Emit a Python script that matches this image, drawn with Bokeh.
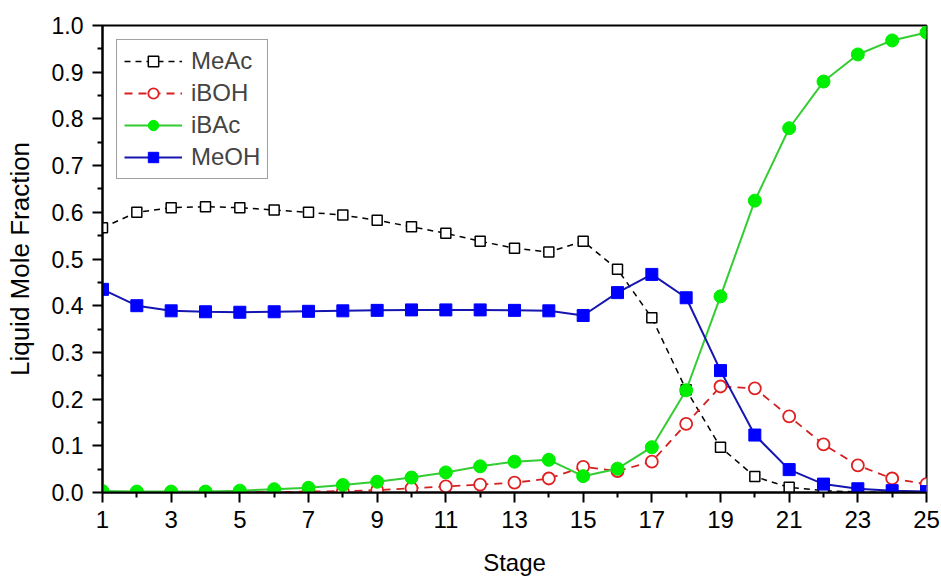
from bokeh.plotting import figure
from bokeh.models import Range1d, FixedTicker, NumeralTickFormatter, Legend, LegendItem, ColumnDataSource
from bokeh.embed import file_html
from bokeh.resources import INLINE

stages = list(range(1, 26))
meac = [0.567, 0.600, 0.610, 0.612, 0.610, 0.605, 0.600, 0.594, 0.583, 0.569,
        0.555, 0.538, 0.523, 0.515, 0.538, 0.478, 0.374, 0.220, 0.097, 0.034,
        0.011, 0.004, 0.001, 0.000, 0.000]
iboh = [0.000, 0.000, 0.000, 0.000, 0.000, 0.001, 0.002, 0.003, 0.005, 0.009,
        0.013, 0.017, 0.021, 0.030, 0.055, 0.046, 0.066, 0.147, 0.227, 0.223,
        0.163, 0.103, 0.058, 0.030, 0.018]
ibac = [0.003, 0.002, 0.002, 0.002, 0.004, 0.007, 0.010, 0.016, 0.023, 0.032,
        0.043, 0.056, 0.066, 0.070, 0.035, 0.051, 0.097, 0.219, 0.420, 0.625,
        0.780, 0.880, 0.938, 0.968, 0.985]
meoh = [0.435, 0.400, 0.389, 0.387, 0.386, 0.387, 0.388, 0.389, 0.390, 0.391,
        0.391, 0.391, 0.390, 0.389, 0.379, 0.428, 0.467, 0.417, 0.261, 0.123,
        0.049, 0.018, 0.008, 0.004, 0.002]
x_major = list(range(1, 26, 2))
x_minor = list(range(2, 25, 2))
y_major = [i / 10 for i in range(11)]
y_minor = [i / 100 for i in range(5, 100, 10)]

FONT = "Liberation Sans"

p = figure(width=941, height=579, output_backend="svg", toolbar_location=None,
           x_range=Range1d(1, 25), y_range=Range1d(0, 1.0),
           min_border_left=102, min_border_right=15, min_border_top=25, min_border_bottom=87)
p.background_fill_color = "white"
p.border_fill_color = "white"
p.xgrid.visible = False
p.ygrid.visible = False
p.outline_line_color = "black"
p.outline_line_width = 2
p.outline_line_alpha = 1

src = ColumnDataSource(dict(x=stages, meac=meac, iboh=iboh, ibac=ibac, meoh=meoh))

l1 = p.line("x", "meac", source=src, line_color="black", line_width=1.5, line_dash="6 5")
s1 = p.scatter("x", "meac", source=src, marker="square", size=10, fill_color="white",
               line_color="black", line_width=1.5)
l2 = p.line("x", "iboh", source=src, line_color="#d42020", line_width=1.8, line_dash="8 6")
s2 = p.scatter("x", "iboh", source=src, marker="circle", size=12, fill_color="white",
               line_color="#e02020", line_width=1.8)
l3 = p.line("x", "ibac", source=src, line_color="#33cc33", line_width=2)
s3 = p.scatter("x", "ibac", source=src, marker="circle", size=13, fill_color="#00ee00",
               line_color="#00ee00", line_width=1)
l4 = p.line("x", "meoh", source=src, line_color="#1515b0", line_width=2)
s4 = p.scatter("x", "meoh", source=src, marker="square", size=12, fill_color="#0000ff",
               line_color="#0000ff", line_width=1)

for ax in (p.xaxis[0], p.yaxis[0]):
    ax.axis_line_width = 2
    ax.major_tick_line_width = 2
    ax.minor_tick_line_width = 2
    ax.major_tick_in = 0
    ax.major_tick_out = 10
    ax.minor_tick_in = 0
    ax.minor_tick_out = 5
    ax.major_label_text_font = FONT
    ax.axis_label_text_font = FONT
    ax.axis_label_text_font_style = "normal"
    ax.major_label_text_color = "black"
    ax.axis_label_text_color = "black"

p.xaxis.ticker = FixedTicker(ticks=x_major, minor_ticks=x_minor)
p.yaxis.ticker = FixedTicker(ticks=y_major, minor_ticks=y_minor)
p.yaxis.formatter = NumeralTickFormatter(format="0.0")
p.xaxis.major_label_text_font_size = "24px"
p.yaxis.major_label_text_font_size = "23px"
p.xaxis.axis_label = "Stage"
p.yaxis.axis_label = "Liquid Mole Fraction"
p.xaxis.axis_label_text_font_size = "24px"
p.yaxis.axis_label_text_font_size = "26px"
p.xaxis.major_label_standoff = 8
p.yaxis.major_label_standoff = 9
p.xaxis.axis_label_standoff = 18
p.yaxis.axis_label_standoff = 14

legend = Legend(items=[
    LegendItem(label="MeAc", renderers=[l1, s1]),
    LegendItem(label="iBOH", renderers=[l2, s2]),
    LegendItem(label="iBAc", renderers=[l3, s3]),
    LegendItem(label="MeOH", renderers=[l4, s4]),
], location="top_left")
legend.margin = 14
legend.padding = 7
legend.spacing = 4
legend.glyph_width = 58
legend.glyph_height = 26
legend.label_height = 26
legend.label_standoff = 9
legend.label_text_font = FONT
legend.label_text_font_size = "24px"
legend.border_line_color = "#444444"
legend.border_line_width = 1.2
legend.background_fill_color = "white"
legend.background_fill_alpha = 1
p.add_layout(legend)

open("out.html", "w").write(file_html(p, INLINE))
